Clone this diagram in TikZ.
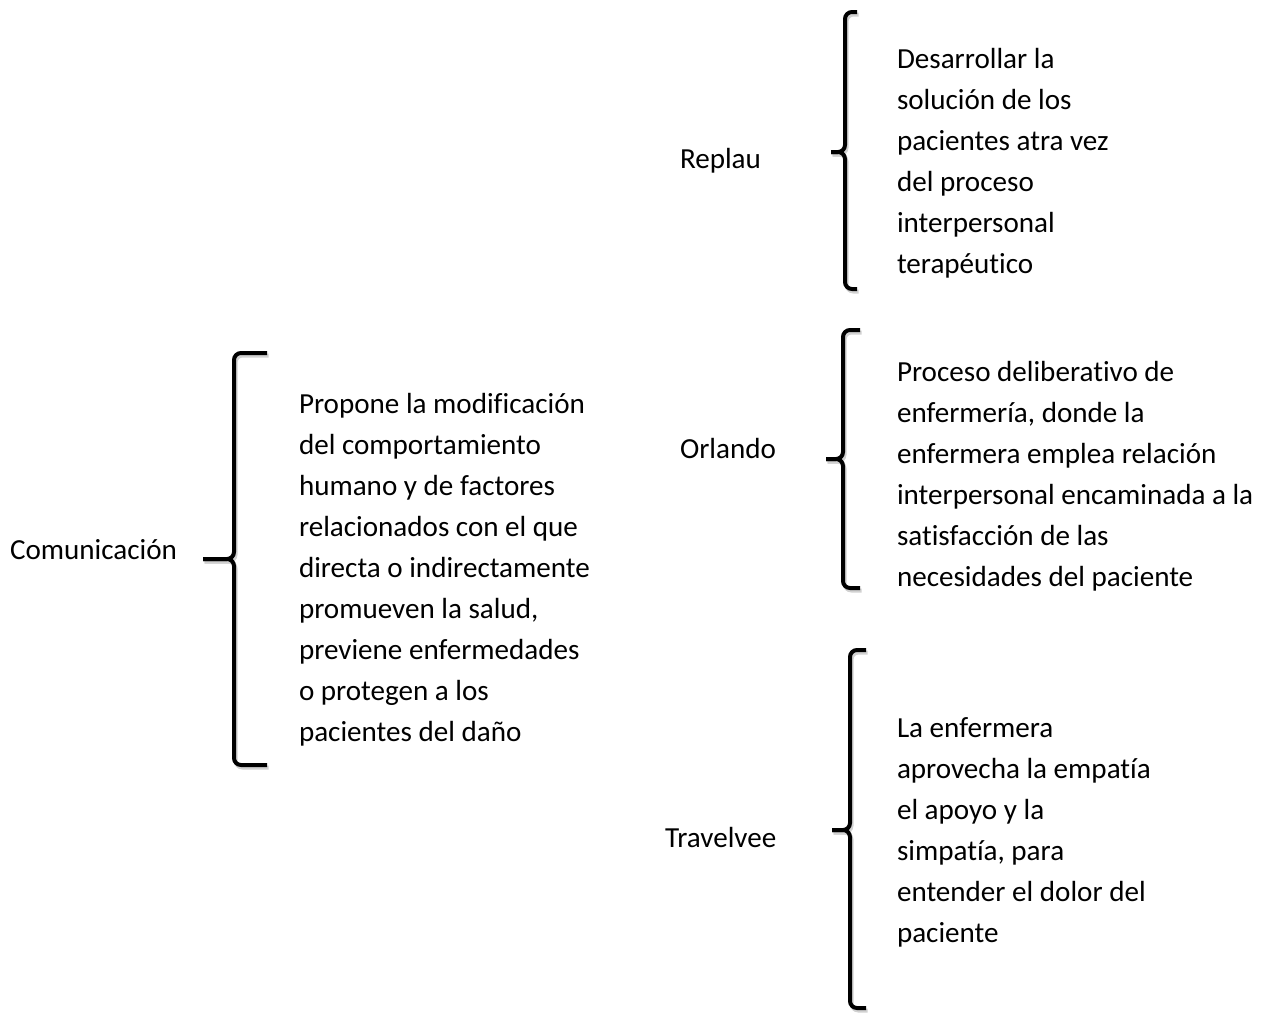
\documentclass[tikz,border=0pt]{standalone}
\usepackage{fontspec}
\setmainfont{Carlito}[Ligatures={NoCommon}]
\tikzset{
  txt/.style={inner sep=0pt, outer sep=0pt, anchor=base west, font=\fontsize{29.1}{41}\selectfont},
  brace/.style={line width=4pt, rounded corners=7pt, black},
  braceshadow/.style={line width=4pt, rounded corners=7pt, black!18, shift={(1.5,2.5)}}
}
\newcommand{\bracepath}[6]{% arm x, vertical x, tip x, top y, mid y, bottom y
  \draw[braceshadow] (#1,#4) -- (#2,#4) -- (#2,#5) -- (#3,#5);
  \draw[braceshadow] (#1,#6) -- (#2,#6) -- (#2,#5) -- (#3,#5);
  \draw[brace] (#1,#4) -- (#2,#4) -- (#2,#5) -- (#3,#5);
  \draw[brace] (#1,#6) -- (#2,#6) -- (#2,#5) -- (#3,#5);
}
\begin{document}
\begin{tikzpicture}[x=1pt,y=-1pt]
\useasboundingbox (0,0) rectangle (1264,1015);
\fill[white] (0,0) rectangle (1264,1015);

% left part
\node[txt] (com) at (10,559) {Comunicación};
\bracepath{267}{234}{203}{353}{559}{765}
\node[txt] (prop) at (299,413) {\vtop{\baselineskip=41pt
  \hbox{Propone la modificación}
  \hbox{del comportamiento}
  \hbox{humano y de factores}
  \hbox{relacionados con el que}
  \hbox{directa o indirectamente}
  \hbox{promueven la salud,}
  \hbox{previene enfermedades}
  \hbox{o protegen a los}
  \hbox{pacientes del daño}}};

% Replau
\node[txt] (rep) at (680,168) {Replau};
\bracepath{857}{845}{831}{12}{152}{289}
\node[txt] (reptxt) at (897,68) {\vtop{\baselineskip=41pt
  \hbox{Desarrollar la}
  \hbox{solución de los}
  \hbox{pacientes atra vez}
  \hbox{del proceso}
  \hbox{interpersonal}
  \hbox{terapéutico}}};

% Orlando
\node[txt] (orl) at (680,458) {Orlando};
\bracepath{860}{843}{826}{330}{459}{588}
\node[txt] (orltxt) at (897,381) {\vtop{\baselineskip=41pt
  \hbox{Proceso deliberativo de}
  \hbox{enfermería, donde la}
  \hbox{enfermera emplea relación}
  \hbox{interpersonal encaminada a la}
  \hbox{satisfacción de las}
  \hbox{necesidades del paciente}}};

% Travelvee
\node[txt] (tra) at (665,847) {Travelvee};
\bracepath{866}{850}{832}{650}{830}{1008}
\node[txt] (tratxt) at (897,737) {\vtop{\baselineskip=41pt
  \hbox{La enfermera}
  \hbox{aprovecha la empatía}
  \hbox{el apoyo y la}
  \hbox{simpatía, para}
  \hbox{entender el dolor del}
  \hbox{paciente}}};
\end{tikzpicture}
\end{document}
